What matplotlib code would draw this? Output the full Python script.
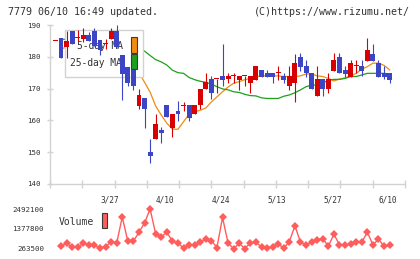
"""
Daily candlestick chart (7779) with 5/25-day moving averages and a volume strip.
Writes out.png (420x259).
"""

import matplotlib

matplotlib.use("Agg")
import matplotlib.pyplot as plt
import numpy as np
from matplotlib.patches import Rectangle

# candles start one day before the volume series (index -1)
opens = [185.0, 185.9, 183.0, 188.1, 186.0, 185.7, 186.8, 188.1, 185.2, 183.9, 185.7,
         188.1, 180.5, 176.9, 177.1, 164.6, 166.9, 150.0, 154.0, 157.0, 164.8,
         157.7, 163.0, 164.6, 164.8, 161.9, 164.8, 169.8, 173.0, 173.0, 174.0,
         172.9, 174.0, 172.7, 174.0, 171.9, 172.7, 175.8, 175.0, 175.0, 174.8,
         174.0, 170.8, 171.9, 180.0, 177.1, 175.0, 167.7, 172.9, 169.8, 175.6,
         180.0, 175.8, 173.8, 177.1, 177.1, 178.8, 180.9, 178.2, 175.0, 175.0]
closes = [185.0, 179.7, 185.0, 183.9, 186.0, 186.8, 184.9, 183.3, 182.0, 183.9, 188.1,
          183.1, 174.7, 171.9, 170.9, 168.0, 163.6, 148.9, 158.9, 155.9, 161.0,
          162.0, 161.9, 164.6, 160.9, 164.8, 169.9, 172.2, 168.7, 173.0, 172.7,
          174.0, 174.0, 174.0, 174.0, 174.0, 177.1, 173.8, 173.8, 173.8, 174.8,
          172.7, 174.0, 178.2, 176.9, 174.8, 169.8, 172.9, 169.8, 172.9, 179.0,
          174.8, 174.6, 177.9, 177.1, 175.6, 182.1, 178.8, 173.8, 173.8, 172.7]
highs = [185.0, 185.9, 188.1, 188.1, 188.5, 189.2, 187.9, 189.0, 185.2, 185.5, 189.2,
         190.0, 180.5, 176.9, 177.1, 169.9, 166.9, 154.2, 162.0, 157.8, 164.8,
         162.0, 166.1, 165.9, 164.8, 164.8, 169.9, 175.0, 174.0, 173.0, 184.0,
         175.0, 175.0, 174.0, 174.0, 174.0, 177.1, 175.8, 175.8, 175.0, 177.1,
         175.0, 177.1, 180.9, 181.1, 179.0, 175.0, 177.1, 172.9, 175.0, 181.1,
         181.1, 177.1, 179.0, 179.0, 179.0, 185.9, 184.0, 179.0, 177.1, 175.0]
lows = [185.0, 179.7, 179.7, 183.9, 185.0, 184.7, 184.9, 183.3, 180.5, 182.5, 185.7,
        183.1, 166.5, 170.9, 169.7, 163.6, 157.7, 146.7, 154.0, 152.8, 161.0,
        154.9, 159.9, 163.1, 159.9, 161.9, 163.6, 169.8, 166.7, 168.7, 170.9,
        171.9, 171.9, 169.6, 170.9, 168.7, 172.7, 173.8, 173.8, 171.9, 172.7,
        171.9, 169.6, 165.9, 175.6, 173.8, 169.8, 167.7, 167.7, 168.7, 175.6,
        174.8, 173.8, 173.8, 174.8, 174.0, 178.8, 178.8, 173.8, 172.9, 171.9]

ma5 = [182.5, 183.0, 183.5, 184.0, 184.3, 185.0, 184.9, 184.5, 184.1, 184.3,
       184.0, 182.3, 180.3, 177.7, 175.0, 172.0, 168.9, 164.5, 161.7, 159.1,
       157.3, 157.2, 159.6, 161.9, 162.7, 163.2, 163.9, 165.8, 167.4, 169.0,
       170.5, 171.7, 172.2, 172.8, 173.2, 173.8, 174.0, 174.0, 174.0, 174.0,
       173.8, 173.8, 173.8, 174.0, 174.6, 174.6, 174.0, 173.8, 173.2, 172.4,
       173.0, 173.4, 174.0, 174.8, 176.1, 176.9, 178.0, 178.0, 177.3, 175.9]
ma25 = [185.5, 185.5, 185.4, 185.3, 185.2, 185.0, 184.8, 184.6, 184.4, 184.1,
        183.8, 183.5, 183.2, 182.8, 182.4, 181.8, 180.4, 179.1, 178.4, 177.4,
        175.8, 175.0, 174.8, 173.5, 172.8, 172.3, 172.0, 171.4, 170.6, 169.9,
        169.6, 169.0, 168.8, 168.2, 167.8, 167.7, 167.1, 166.9, 166.9, 166.9,
        167.6, 168.0, 168.7, 169.6, 170.6, 171.1, 171.1, 171.7, 172.7, 172.9,
        172.9, 173.2, 173.8, 173.8, 174.3, 174.8, 174.8, 174.8, 174.8, 174.6]

volumes = [395700, 565700, 339000, 339000, 565700, 471000, 452000, 282000, 358000,
           660000, 566000, 2039000, 679000, 679000, 1189000, 1699000, 2492100,
           1094000, 924000, 1189000, 679000, 585000, 282000, 471000, 471000, 622000,
           792000, 717000, 320000, 2020000, 566000, 263500, 566000, 263500, 585000,
           622000, 358000, 282000, 377000, 528000, 282000, 660000, 1548000, 622000,
           471000, 622000, 754000, 830000, 396000, 1075000, 471000, 471000, 528000,
           622000, 622000, 1189000, 471000, 792000, 396000, 452000]

date_labels = ["3/27", "4/10", "4/24", "5/13", "5/27", "6/10"]
date_pos = [8.8, 18.7, 28.7, 38.7, 48.7, 58.7]
vol_ticks = [263500, 1377800, 2492100]

RED = "#d80000"
BLUE = "#3c46c4"
ORANGE = "#f08c10"
GREEN = "#1ea01e"
VOL = "#ff5c5c"
AXIS = "#d2d2d2"
TEXT = "#333333"
MONO = "DejaVu Sans Mono"

W, H = 420, 259


def fx(px):
    return px / W


def fy(py):
    return 1 - py / H


fig = plt.figure(figsize=(W / 100, H / 100), dpi=100)
ax = fig.add_axes([fx(50), fy(184), fx(405) - fx(50), fy(25) - fy(184)])
axv = fig.add_axes([fx(50), fy(248.6), fx(405) - fx(50), fy(209) - fy(248.6)])

xlim = (-1.97, 61.76)

# --- price panel
xc = np.arange(-1, len(opens) - 1)
o = np.array(opens)
c = np.array(closes)
colors = [RED if cc >= oo else BLUE for oo, cc in zip(o, c)]
ax.vlines(xc, lows, highs, colors=colors, linewidth=0.8, zorder=4)
body = np.maximum(np.abs(c - o), 0.32)
ax.bar(xc, body, bottom=np.minimum(o, c), width=0.88, color=colors,
       linewidth=0, zorder=4)

xm = np.arange(len(ma5))
ax.plot(xm, ma5, color=ORANGE, lw=0.9, zorder=2)
ax.plot(xm, ma25, color=GREEN, lw=0.9, zorder=2)

ax.set_xlim(*xlim)
ax.set_ylim(140, 190)
for s in ("top", "right"):
    ax.spines[s].set_visible(False)
for s in ("left", "bottom"):
    ax.spines[s].set_color(AXIS)
    ax.spines[s].set_linewidth(1.0)

ax.set_yticks(np.arange(140, 191, 10))
ax.tick_params(axis="y", direction="inout", length=5, width=1.0, color=AXIS,
               pad=4, labelsize=5.4, labelcolor=TEXT)
ax.set_xticks(date_pos)
ax.set_xticklabels(date_labels)
ax.tick_params(axis="x", which="major", length=0, pad=8, labelsize=5.6,
               labelcolor=TEXT)
ax.set_xticks(np.linspace(xlim[0], xlim[1], 12), minor=True)
ax.tick_params(axis="x", which="minor", direction="inout", length=5.8,
               width=1.0, color=AXIS)
for lab in ax.get_xticklabels() + ax.get_yticklabels():
    lab.set_fontfamily(MONO)

# legend box sits under the candles but over the MA lines
ax.add_patch(Rectangle((0.0423, 0.673), 0.2197, 0.2956, transform=ax.transAxes,
                       facecolor="white", edgecolor=AXIS, lw=1.0, zorder=3))
ax.text(0.076, 0.870, "5-day MA", transform=ax.transAxes, fontsize=6.9,
        family=MONO, color=TEXT, va="center", zorder=3.5)
ax.text(0.0563, 0.759, "25-day MA", transform=ax.transAxes, fontsize=6.9,
        family=MONO, color=TEXT, va="center", zorder=3.5)
for y0, y1, col in ((37.3, 52.7, ORANGE), (54.0, 69.0, GREEN)):
    fig.add_artist(Rectangle((fx(131), fy(y1)), fx(137) - fx(131), fy(y0) - fy(y1),
                             transform=fig.transFigure, facecolor=col,
                             edgecolor="#3a3a3a", lw=0.8, zorder=6))

# --- volume panel
axv.plot(np.arange(len(volumes)), volumes, color=VOL, lw=1.0, marker="D",
         ms=4.2, mew=0, clip_on=False)
axv.set_xlim(*xlim)
axv.set_ylim(vol_ticks[0], vol_ticks[-1])
for s in axv.spines.values():
    s.set_visible(False)
axv.set_xticks([])
axv.set_yticks(vol_ticks)
axv.set_yticklabels([str(v) for v in vol_ticks])
axv.tick_params(axis="y", length=0, pad=4.3, labelsize=5.4, labelcolor=TEXT)
for lab in axv.get_yticklabels():
    lab.set_fontfamily(MONO)

fig.text(fx(59), fy(222), "Volume", fontsize=7, family=MONO, color=TEXT,
         va="center")
fig.add_artist(Rectangle((fx(101.7), fy(228)), fx(107.3) - fx(101.7),
                         fy(213) - fy(228), transform=fig.transFigure,
                         facecolor=VOL, edgecolor="#3a3a3a", lw=0.8))

# --- header
fig.text(fx(8), fy(12), "7779 06/10 16:49 updated.", fontsize=7.2, family=MONO,
         color=TEXT, va="center")
fig.text(fx(410), fy(12), "(C)https://www.rizumu.net/", fontsize=7.2,
         family=MONO, color=TEXT, va="center", ha="right")

fig.savefig("out.png", dpi=100)
